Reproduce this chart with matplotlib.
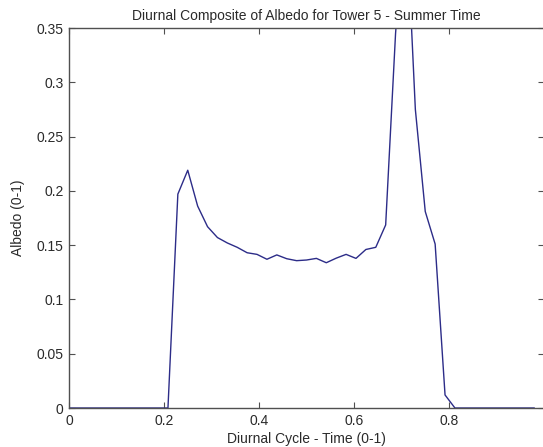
import numpy as np
import matplotlib
matplotlib.use('Agg')
import matplotlib.pyplot as plt
from matplotlib.ticker import FixedLocator, FuncFormatter

plt.rcParams['font.family'] = ['Liberation Sans', 'DejaVu Sans']

# ── Data: diurnal albedo composite, 48 half-hour samples (time 0..47/48) ──
n_steps = 48
time_frac = np.arange(n_steps) / n_steps
albedo = [0, 0, 0, 0, 0, 0, 0, 0, 0, 0,
          0, 0.197, 0.219, 0.186, 0.167, 0.157, 0.152, 0.148, 0.143, 0.1415,
          0.137, 0.141, 0.1375, 0.1357, 0.1363, 0.1378, 0.1338, 0.138, 0.1415, 0.1378,
          0.146, 0.148, 0.1686, 0.345, 0.47, 0.275, 0.181, 0.151, 0.012, 0,
          0, 0, 0, 0, 0, 0, 0, 0]

x_ticks = [0, 0.2, 0.4, 0.6, 0.8, 1.0]
x_labels = ['0', '0.2', '0.4', '0.6', '0.8', '']   # "1" falls off the cropped edge
y_ticks = [0, 0.05, 0.1, 0.15, 0.2, 0.25, 0.3, 0.35]

W, H = 543, 447
fig = plt.figure(figsize=(W/100, H/100), dpi=100)
fig.patch.set_facecolor('white')
ax = fig.add_axes([69/W, 39/H, 475/W, 380/H])

ax.plot(time_frac, albedo, color='#2c2c88', lw=1.0)

ax.set_xlim(0, 1)
ax.set_ylim(0, 0.35)
ax.set_xticks(x_ticks)
ax.set_xticklabels(x_labels)
ax.yaxis.set_major_locator(FixedLocator(y_ticks))
ax.yaxis.set_major_formatter(FuncFormatter(lambda v, p: f'{v:g}'))

for sp in ax.spines.values():
    sp.set_color('#505050'); sp.set_linewidth(1.0)
ax.tick_params(direction='in', length=4, width=0.8, color='#505050',
               top=True, right=True, labelsize=10, labelcolor='#2a2a2a', pad=4)

ax.set_title('Diurnal Composite of Albedo for Tower 5 - Summer Time',
             fontsize=10, color='#2a2a2a', pad=6)
ax.set_xlabel('Diurnal Cycle - Time (0-1)', fontsize=10, color='#2a2a2a', labelpad=3)
ax.set_ylabel('Albedo (0-1)', fontsize=10, color='#2a2a2a', labelpad=8)

fig.savefig('out.png', dpi=100, facecolor='white')
